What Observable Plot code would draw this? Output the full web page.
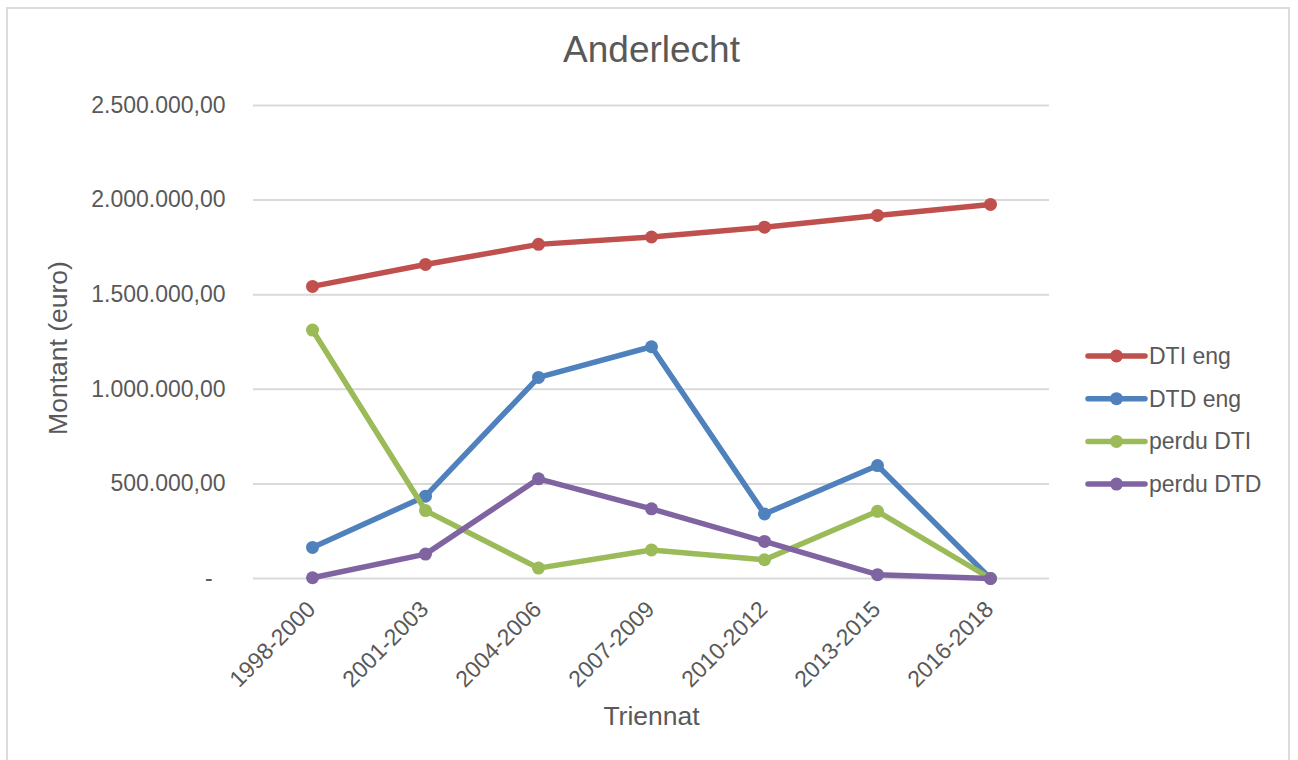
<!DOCTYPE html>
<html>
<head>
<meta charset="utf-8">
<script src="https://cdn.jsdelivr.net/npm/d3@7"></script>
<script src="https://cdn.jsdelivr.net/npm/@observablehq/plot@0.6"></script>
<style>
  html, body { margin: 0; padding: 0; background: #fff; }
  #wrap { position: relative; width: 1298px; height: 760px; overflow: hidden; font-family: "Liberation Sans", Arial, sans-serif; }
  #border { position: absolute; left: 6px; top: 7px; width: 1284px; height: 780px; border: 2px solid #dcdcdc; box-sizing: border-box; pointer-events: none; }
  #chart { position: absolute; left: 0; top: 0; }
  #legend { position: absolute; left: 0; top: 0; }
</style>
</head>
<body>
<div id="wrap"><div id="border"></div><div id="chart"></div><svg id="legend" width="1298" height="760"></svg></div>
<script>
const title = "Anderlecht";
const xTitle = "Triennat";
const yTitle = "Montant (euro)";
const categories = ["1998-2000", "2001-2003", "2004-2006", "2007-2009", "2010-2012", "2013-2015", "2016-2018"];
const seriesNames = ["DTI eng", "DTD eng", "perdu DTI", "perdu DTD"];
const seriesColors = ["#c0504d", "#4f81bd", "#9bbb59", "#8064a2"];
const dtiEng   = [1544000, 1660000, 1766000, 1805000, 1857000, 1919000, 1977000];
const dtdEng   = [164000, 435000, 1063000, 1225000, 341000, 597000, 0];
const perduDTI = [1313000, 359000, 55000, 151000, 99000, 355000, 0];
const perduDTD = [4000, 129000, 527000, 368000, 196000, 20000, 0];
const yTicks = [0, 500000, 1000000, 1500000, 2000000, 2500000];

const seriesValues = [dtiEng, dtdEng, perduDTI, perduDTD];
const data = seriesNames.flatMap((s, i) => categories.map((c, j) => ({series: s, cat: c, value: seriesValues[i][j]})));

const loc = d3.formatLocale({decimal: ",", thousands: ".", grouping: [3], currency: ["", "€"]});
const fmt = loc.format(",.2f");
const tickFmt = v => v === 0 ? "-\u00a0\u00a0" : fmt(v);

const textColor = "#595959";
const font = "Liberation Sans, Arial, sans-serif";

const marks = [
  Plot.gridY(yTicks, {stroke: "#d9d9d9", strokeOpacity: 1, strokeWidth: 2}),
  Plot.axisY(yTicks, {tickSize: 0, tickPadding: 28, tickFormat: tickFmt, fontSize: 23, fill: textColor, label: null}),
  Plot.axisX({tickSize: 0, tickPadding: 27, tickRotate: -45, fontSize: 23, fill: textColor, label: null, dx: -1}),
  Plot.text([title], {frameAnchor: "top", dy: -55, lineAnchor: "middle", fontSize: 37, fill: textColor}),
  Plot.text([xTitle], {frameAnchor: "bottom", dy: 138, lineAnchor: "middle", fontSize: 26.5, fill: textColor}),
  Plot.text([yTitle], {frameAnchor: "left", dx: -195, dy: 6, rotate: -90, textAnchor: "middle", lineAnchor: "middle", fontSize: 26.5, fill: textColor})
];
seriesNames.forEach((s, i) => {
  const d = data.filter(r => r.series === s);
  marks.push(Plot.line(d, {x: "cat", y: "value", stroke: seriesColors[i], strokeWidth: 5.5, strokeLinejoin: "round", strokeLinecap: "round"}));
  marks.push(Plot.dot(d, {x: "cat", y: "value", fill: seriesColors[i], r: 6.5, stroke: "none"}));
});

const chart = Plot.plot({
  width: 1298,
  height: 760,
  marginLeft: 253,
  marginRight: 249,
  marginTop: 105,
  marginBottom: 182,
  style: {fontFamily: font, background: "transparent", color: textColor},
  x: {type: "point", domain: categories, padding: 0.5, label: null},
  y: {domain: [0, 2500000], label: null},
  marks
});
document.getElementById("chart").appendChild(chart);

// Legend
const leg = d3.select("#legend");
const legX = 1088, legY0 = 356, legStep = 42.7;
seriesNames.forEach((s, i) => {
  const g = leg.append("g").attr("transform", `translate(${legX},${legY0 + i * legStep})`);
  g.append("line").attr("x1", 0).attr("x2", 57).attr("y1", 0).attr("y2", 0)
    .attr("stroke", seriesColors[i]).attr("stroke-width", 5.5).attr("stroke-linecap", "round");
  g.append("circle").attr("cx", 28.5).attr("cy", 0).attr("r", 6.5).attr("fill", seriesColors[i]);
  g.append("text").attr("x", 61).attr("y", 0).attr("dy", "0.35em")
    .attr("font-family", font).attr("font-size", 23).attr("fill", textColor).text(s);
});
</script>
</body>
</html>
